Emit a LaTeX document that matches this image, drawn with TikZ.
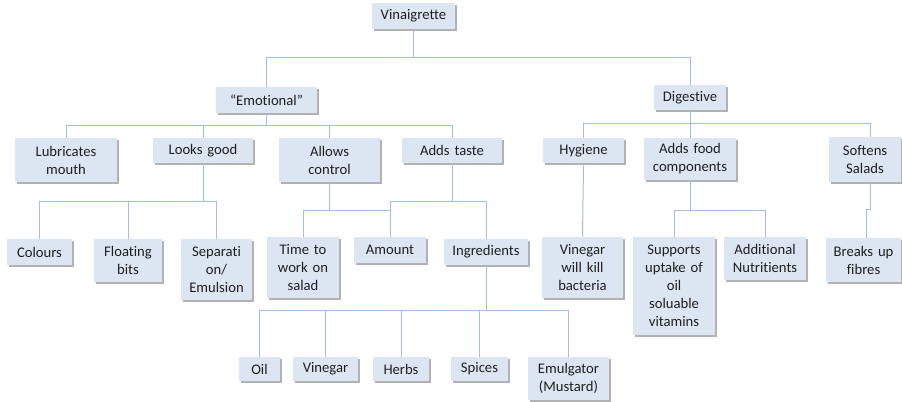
\documentclass[tikz,border=0pt]{standalone}
\usepackage{fontspec}
\setmainfont[Ligatures={NoCommon}]{Carlito}
\usetikzlibrary{shadows}
\definecolor{boxfill}{HTML}{DCE6F2}
\definecolor{lineblue}{HTML}{9DBFE3}
\definecolor{txt}{HTML}{1F1F1F}
\tikzset{
  box/.style={fill=boxfill, inner sep=0pt, align=center, text=txt,
    font=\fontsize{11}{13.5}\selectfont,
    drop shadow={shadow xshift=1.6pt, shadow yshift=-1.6pt, fill=black, opacity=0.3}},
  conn/.style={draw=lineblue, line width=0.75pt}
}
\newcommand\bx[6]{%
  \pgfmathsetmacro\cx{(#2+#3)/2}\pgfmathsetmacro\cy{(#4+#5)/2}%
  \pgfmathsetmacro\ww{(#3-#2)*0.75}\pgfmathsetmacro\hh{(#5-#4)*0.75}%
  \node[box, minimum width=\ww pt, minimum height=\hh pt, text width=\ww pt] (#1) at (\cx,\cy) {#6};}
\begin{document}
\begin{tikzpicture}[x=0.75pt, y=-0.75pt]
\useasboundingbox[fill=white] (0,0) rectangle (902,402);
% level 0
\bx{vin}{372}{455}{3}{29}{Vinaigrette}
% level 1
\bx{emo}{216}{317}{87}{113}{“Emotional”}
\bx{dig}{654}{726}{85}{110}{Digestive}
% level 2
\bx{lub}{15}{117}{138}{182}{Lubricates\\mouth}
\bx{looks}{153}{253}{138}{163}{Looks good}
\bx{allows}{279}{380}{138}{182}{Allows\\control}
\bx{taste}{402}{502}{138}{163}{Adds taste}
\bx{hyg}{543}{624}{138}{163}{Hygiene}
\bx{food}{644}{736}{138}{180}{Adds food\\components}
\bx{soft}{829}{901}{137}{182}{Softens\\Salads}
% level 3
\bx{col}{7}{72}{239}{265}{Colours}
\bx{flo}{94}{162}{239}{282}{Floating\\bits}
\bx{sep}{181}{252}{239}{300}{Separati\\on/\\Emulsion}
\bx{time}{267}{339}{237}{298}{Time to\\work on\\salad}
\bx{amount}{354}{426}{237}{263}{Amount}
\bx{ingr}{444}{528}{239}{265}{Ingredients}
\bx{vk}{542}{623}{237}{298}{Vinegar\\will kill\\bacteria}
\bx{sup}{633}{715}{237}{335}{Supports\\uptake of\\oil\\soluable\\vitamins}
\bx{add}{724}{806}{237}{280}{Additional\\Nutritients}
\bx{brk}{826}{901}{238}{282}{Breaks up\\fibres}
% level 4
\bx{oil}{239}{280}{357}{381}{Oil}
\bx{vine}{293}{358}{357}{381}{Vinegar}
\bx{herbs}{373}{429}{357}{381}{Herbs}
\bx{spices}{451}{508}{357}{381}{Spices}
\bx{emul}{528}{609}{357}{400}{Emulgator\\(Mustard)}
% connectors
\draw[conn] (vin.south) -- ++(0,28) coordinate (j0);
\draw[conn] (emo.north) |- (j0) -| (dig.north);
\draw[conn] (emo.south) -- ++(0,12) coordinate (j1);
\draw[conn] (lub.north) |- (taste.north |- j1) -- (taste.north);
\draw[conn] (looks.north) -- (looks.north |- j1);
\draw[conn] (allows.north) -- (allows.north |- j1);
\draw[conn] (dig.south) -- ++(0,13) coordinate (j2);
\draw[conn] (hyg.north) |- ([xshift=3.75pt]soft.north |- j2) -- ([xshift=3.75pt]soft.north);
\draw[conn] (food.north) -- (food.north |- j2);
\draw[conn] (looks.south) -- ++(0,38) coordinate (j3);
\draw[conn] (col.north) |- (sep.north |- j3) -- (sep.north);
\draw[conn] (flo.north) -- (flo.north |- j3);
\draw[conn] (allows.south) -- ++(0,28) coordinate (j4);
\draw[conn] (time.north) |- (amount.north |- j4) -- (amount.north);
\draw[conn] (taste.south) -- ++(0,38) coordinate (j5);
\draw[conn] (amount.north) |- (ingr.north |- j5) -- (ingr.north);
\draw[conn] (hyg.south) -- (vk.north);
\draw[conn] (food.south) -- ++(0,30) coordinate (j6);
\draw[conn] (sup.north) |- (add.north |- j6) -- (add.north);
\draw[conn] ([xshift=3.75pt]soft.south) -- ++(0,27) -| ([xshift=1.9pt]brk.north);
\draw[conn] (ingr.south) -- ++(0,45) coordinate (j7);
\draw[conn] (oil.north) |- (emul.north |- j7) -- (emul.north);
\draw[conn] (vine.north) -- (vine.north |- j7);
\draw[conn] (herbs.north) -- (herbs.north |- j7);
\draw[conn] (spices.north) -- (spices.north |- j7);
\end{tikzpicture}
\end{document}
